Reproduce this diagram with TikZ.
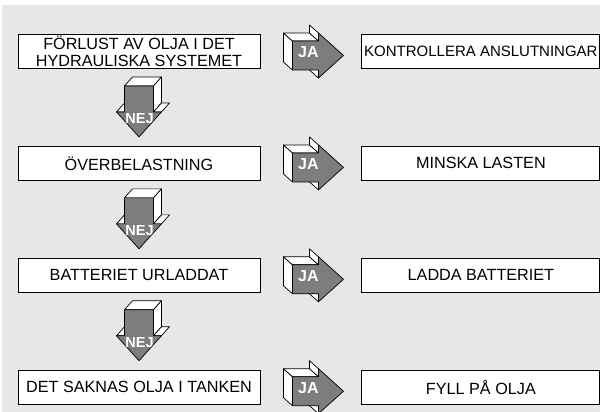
\documentclass[tikz,border=0pt]{standalone}
\usepackage{fontspec}
\setmainfont{Liberation Sans}
\usetikzlibrary{positioning, calc}

\definecolor{panelgray}{RGB}{230,231,232}
\definecolor{arrowgray}{RGB}{125,125,125}

\tikzset{
  block arrow/.pic={
    % side faces (back of the block lies up and to the left)
    \filldraw[side face] (-26,-14.5) -- (-35,-22.5) -- (-35,6.5) -- (-26,14.5) -- cycle;
    \filldraw[side face] (-26,-14.5) -- (-35,-22.5) -- (-9,-22.5) -- (0,-14.5) -- cycle;
    \filldraw[side face] (0,-14.5) -- (-9,-22.5) -- (-9,-30.5) -- (0,-22.5) -- cycle;
    \filldraw[side face] (0,14.5) -- (-9,6.5) -- (-9,14.5) -- (0,22.5) -- cycle;
    % front face
    \filldraw[front face] (-26,-14.5) -- (0,-14.5) -- (0,-22.5) -- (25,0) -- (0,22.5) -- (0,14.5) -- (-26,14.5) -- cycle;
  }
}

\begin{document}
\begin{tikzpicture}[
    x=1pt, y=-1pt,
    node distance=77pt,
    fault/.style={rectangle, draw, fill=white, line width=0.9pt, minimum width=242pt, minimum height=34pt, inner sep=1pt, align=center, font=\fontsize{16.2}{16.5}\selectfont},
    fix/.style={fault, minimum width=238pt},
    side face/.style={fill=white, draw, line width=0.7pt, line join=round},
    front face/.style={fill=arrowgray, draw, line width=0.7pt, line join=round},
    ja label/.style={text=white, inner sep=0pt, font=\fontsize{16}{16}\selectfont\bfseries},
    nej label/.style={ja label, font=\fontsize{14.5}{16}\selectfont\bfseries}
]
\useasboundingbox (0,0) rectangle (600,412);
\fill[panelgray] (2,5) rectangle (600,412);

\node[fault] (fault1) at (139,51.5) {FÖRLUST AV OLJA I DET\\HYDRAULISKA SYSTEMET};
\node[fault, below=of fault1] (fault2) {ÖVERBELASTNING};
\node[fault, below=of fault2] (fault3) {BATTERIET URLADDAT};
\node[fault, below=of fault3] (fault4) {DET SAKNAS OLJA I TANKEN};

\node[fix, right=101pt of fault1, inner xsep=0.5pt, font=\fontsize{15}{16}\selectfont] (fix1) {KONTROLLERA ANSLUTNINGAR};
\node[fix, right=101pt of fault2] (fix2) {MINSKA LASTEN};
\node[fix, right=101pt of fault3] (fix3) {LADDA BATTERIET};
\node[fix, right=101pt of fault4] (fix4) {FYLL PÅ OLJA};

% JA arrows
\foreach \i in {1,...,4} {
  \pic at ($(fault\i.east)+(58,4)$) {block arrow};
  \node[ja label] (ja\i) at ($(fault\i.east)+(48,1)$) {JA};
}

% NEJ arrows
\foreach \i/\j in {1/2,2/3,3/4} {
  \pic[rotate=-90] at ($(fault\j.north)+(0,-34)$) {block arrow};
  \node[nej label] (nej\i) at ($(fault\j.north)+(0.5,-27.5)$) {NEJ};
}
\end{tikzpicture}
\end{document}
